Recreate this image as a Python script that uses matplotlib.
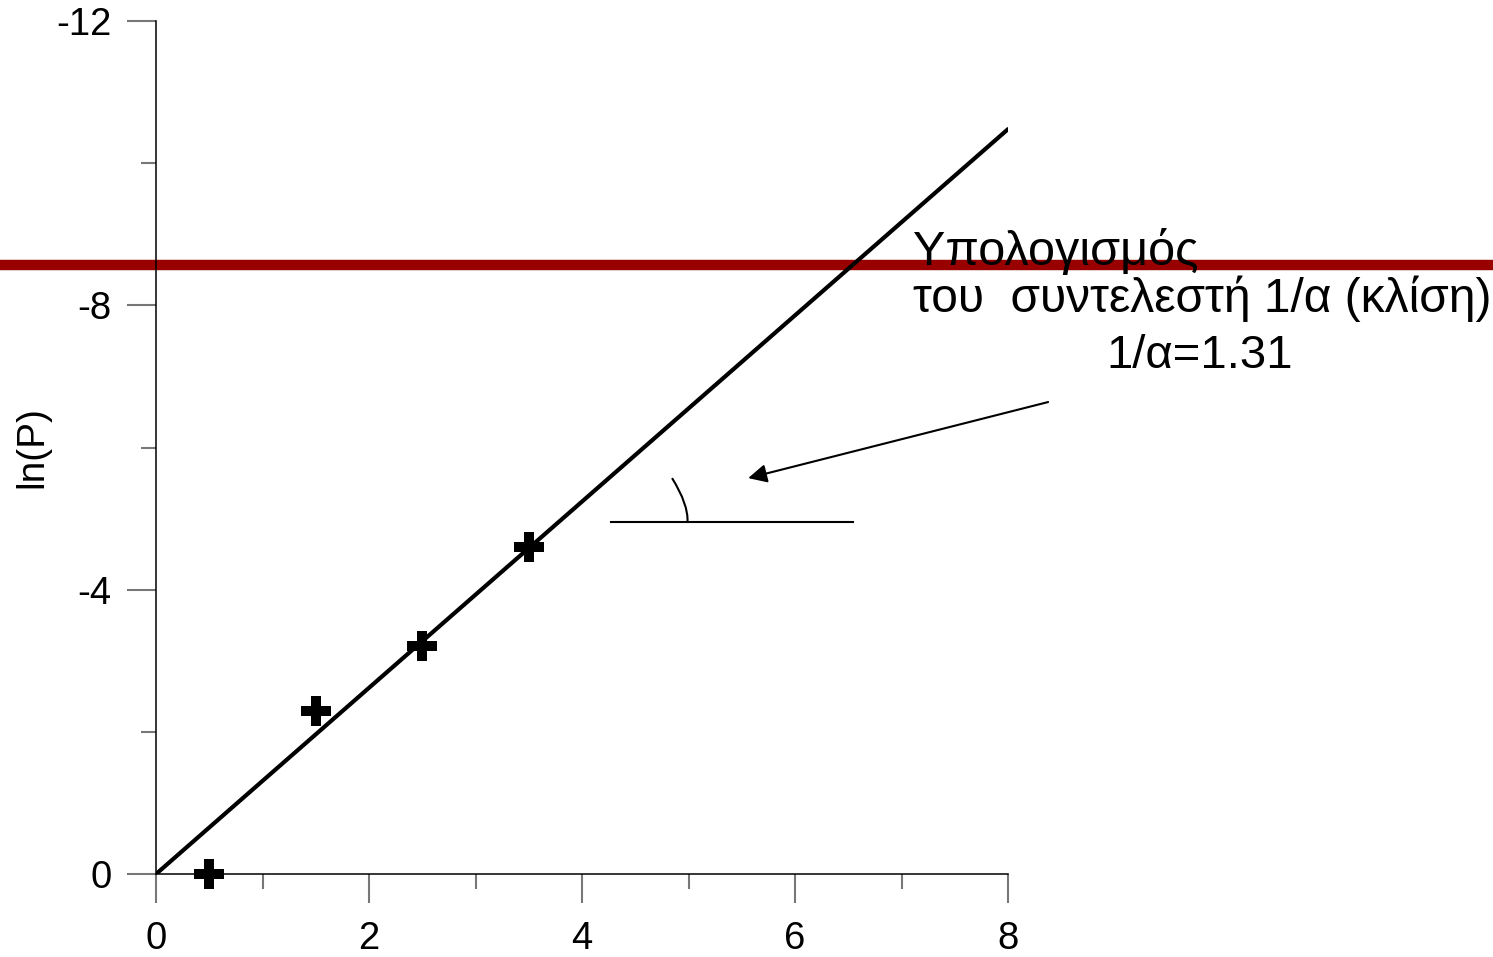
import numpy as np
import matplotlib.pyplot as plt
from matplotlib.path import Path
from matplotlib.patches import PathPatch
from matplotlib.transforms import blended_transform_factory

plt.rcParams['font.family'] = ['Liberation Sans', 'DejaVu Sans']

# data
x_pts = [0.5, 1.5, 2.5, 3.5]
lnP_pts = [0.0, -2.29, -3.21, -4.60]
slope = -1.31          # 1/a, fitted line through origin
fit_x = [0.0, 8.0]
level_y = -8.57        # red horizontal line

x_ticks = [0, 2, 4, 6, 8]
x_minor = [1, 3, 5, 7]
y_ticks = [0, -4, -8, -12]
y_minor = [-2, -6, -10]

# angle sketch + arrow (data coords)
angle_base_x = [4.27, 6.54]
angle_base_y = -4.95
arc_pts = [(4.845, -5.57), (5.0, -5.2), (4.99, -4.95)]
arrow_tail = (8.376, -6.64)
arrow_head = (5.56, -5.57)

fig = plt.figure(figsize=(14.93, 9.57), dpi=100)
ax = fig.add_axes([0.1045, 0.0867, 0.5707, 0.8913])

fit_y = [slope * v for v in fit_x]
ax.plot(fit_x, fit_y, color='black', lw=3, solid_capstyle='round', zorder=3)
ax.plot(x_pts, lnP_pts, linestyle='none', marker='P', markersize=22,
        color='black', markeredgewidth=0, zorder=4, clip_on=False)

# red level line across the whole figure width
tr = blended_transform_factory(fig.transFigure, ax.transData)
ax.plot([0, 1], [level_y, level_y], color='#990000', lw=7.5,
        transform=tr, clip_on=False, zorder=2)

ax.plot(angle_base_x, [angle_base_y, angle_base_y], color='black', lw=1.5)
arc = Path(arc_pts, [Path.MOVETO, Path.CURVE3, Path.CURVE3])
ax.add_patch(PathPatch(arc, fill=False, color='black', lw=1.5))
ax.annotate('', xy=arrow_head, xytext=arrow_tail, annotation_clip=False,
            arrowprops=dict(arrowstyle='-|>', color='black', lw=1.5,
                            mutation_scale=28, shrinkA=0, shrinkB=0))

txt = dict(va='baseline', clip_on=False, zorder=5)
ax.text(7.108, -8.565, 'Υπολογισμός', ha='left', fontsize=35, **txt)
ax.text(7.108, -7.904, 'του  συντελεστή 1/α (κλίση)', ha='left',
        fontsize=34.5, **txt)
ax.text(9.80, -7.117, '1/α=1.31', ha='center', fontsize=34, **txt)

ax.set_xlim(0, 8)
ax.set_ylim(0, -12)
ax.set_xticks(x_ticks)
ax.set_xticks(x_minor, minor=True)
ax.set_yticks(y_ticks)
ax.set_yticks(y_minor, minor=True)
ax.set_yticklabels([str(v) for v in y_ticks])

for s in ['top', 'right']:
    ax.spines[s].set_visible(False)
for s in ['left', 'bottom']:
    ax.spines[s].set_linewidth(1.1)
    ax.spines[s].set_color('black')

ax.tick_params(which='major', length=21, width=1.5, color='#777777',
               labelsize=27.5, direction='out')
ax.tick_params(which='minor', length=10.5, width=1.5, color='#777777',
               direction='out')
ax.tick_params(axis='y', which='major', pad=11)
ax.tick_params(axis='x', which='major', pad=12.5)

ax.set_ylabel('ln(P)', fontsize=28)
ax.yaxis.set_label_coords(-0.124, 0.5)

fig.savefig('out.png', dpi=100, facecolor='white')
